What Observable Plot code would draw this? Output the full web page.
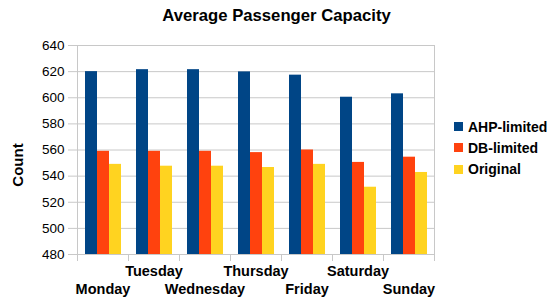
<!DOCTYPE html>
<html><head><meta charset="utf-8">
<script src="https://cdn.jsdelivr.net/npm/d3@7"></script>
<script src="https://cdn.jsdelivr.net/npm/@observablehq/plot@0.6"></script>
<style>
html,body{margin:0;padding:0;background:#fff;}
#wrap{position:relative;width:553px;height:302px;overflow:hidden;font-family:"Liberation Sans",Arial,sans-serif;color:#000;}
#title{position:absolute;left:0;top:8px;width:553px;text-align:center;font-size:16.7px;font-weight:bold;line-height:1;}
#chart{position:absolute;left:0;top:30px;}
#ylabel{position:absolute;left:17px;top:165px;transform:translate(-50%,-50%) rotate(-90deg);font-size:15px;font-weight:bold;white-space:nowrap;line-height:1;}
#legend{position:absolute;left:454px;top:116px;}
.lg{display:flex;align-items:center;height:21.3px;font-size:14px;font-weight:bold;white-space:nowrap;}
.sw{width:9px;height:9px;margin-right:5px;flex:none;}
#chart svg{font-family:"Liberation Sans",Arial,sans-serif;overflow:visible;}
</style></head>
<body>
<div id="wrap">
  <div id="title">Average Passenger Capacity</div>
  <div id="chart"></div>
  <div id="ylabel">Count</div>
  <div id="legend"></div>
</div>
<script>
const days = ["Monday","Tuesday","Wednesday","Thursday","Friday","Saturday","Sunday"];
const series = ["AHP-limited","DB-limited","Original"];
const colors = ["#004586","#ff420e","#ffd320"];
const ahpLimited = [620, 621.5, 621.5, 619.8, 617.3, 600.4, 603];
const dbLimited  = [559, 559, 559, 558, 560, 550.5, 554.5];
const original   = [549, 547.6, 547.6, 546.6, 549, 531.5, 542.8];
const yTicks = [480, 500, 520, 540, 560, 580, 600, 620, 640];

const valuesBySeries = [ahpLimited, dbLimited, original];
const data = [];
days.forEach((d, i) => series.forEach((s, j) => data.push({day: d, series: s, value: valuesBySeries[j][i]})));

const gridColor = "#c8c8c8";
const chart = Plot.plot({
  width: 553,
  height: 272,
  marginTop: 15,
  marginBottom: 48,
  marginLeft: 76,
  marginRight: 118,
  style: {fontFamily: "Liberation Sans, Arial, sans-serif", background: "#fff"},
  fx: {domain: days, padding: 0, label: null},
  x: {domain: series, paddingInner: 0, paddingOuter: 0.47, axis: null},
  y: {domain: [yTicks[0], yTicks[yTicks.length - 1]], ticks: yTicks, tickSize: 9, tickPadding: 4, label: null},
  color: {domain: series, range: colors},
  marks: [
    Plot.gridY({ticks: yTicks, stroke: gridColor, strokeOpacity: 1}),
    Plot.barY(data, {fx: "day", x: "series", y: "value", fill: "series", clip: true}),
    Plot.frame({facet: "super", stroke: gridColor}),
    Plot.frame({anchor: "left", insetTop: 209, insetBottom: -6, stroke: gridColor}),
    Plot.frame({anchor: "right", insetTop: 209, insetBottom: -6, stroke: gridColor}),
    Plot.axisFx({anchor: "bottom", tickSize: 0, tickPadding: 11, fontSize: 14.5, fontWeight: "bold", label: null,
      tickFormat: d => days.indexOf(d) % 2 === 1 ? d : ""}),
    Plot.axisFx({anchor: "bottom", tickSize: 0, tickPadding: 29, fontSize: 14.5, fontWeight: "bold", label: null,
      tickFormat: d => days.indexOf(d) % 2 === 0 ? d : ""}),
    Plot.axisY({ticks: yTicks, tickSize: 9, tickPadding: 4, fontSize: 13.5, label: null, stroke: gridColor})
  ]
});
document.getElementById("chart").appendChild(chart);

const lg = document.getElementById("legend");
series.forEach((s, i) => {
  const row = document.createElement("div");
  row.className = "lg";
  const sw = document.createElement("span");
  sw.className = "sw";
  sw.style.background = colors[i];
  row.appendChild(sw);
  row.appendChild(document.createTextNode(s));
  lg.appendChild(row);
});
</script>
</body></html>
